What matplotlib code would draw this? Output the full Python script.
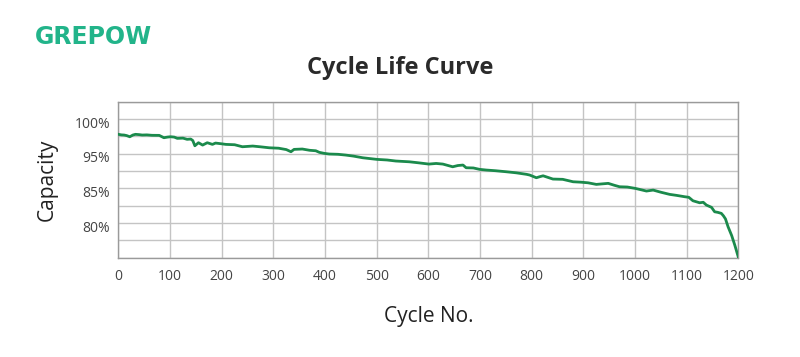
import matplotlib.pyplot as plt
from matplotlib.transforms import ScaledTranslation

# capacity curve (cycle no. vs capacity %)
cycles = [0, 6, 11, 16, 22, 28, 33, 40, 46, 55, 65, 79, 88, 95, 101, 108, 114,
          125, 133, 140, 144, 148, 155, 163, 172, 182, 188, 198, 208, 225, 240,
          260, 275, 292, 310, 325, 334, 340, 356, 370, 382, 389, 398, 408, 425,
          440, 455, 473, 500, 520, 537, 563, 580, 601, 615, 628, 647, 657, 667,
          673, 687, 699, 712, 730, 751, 770, 790, 796, 809, 815, 822, 841, 860,
          880, 895, 909, 925, 948, 960, 970, 985, 1000, 1012, 1022, 1035, 1050,
          1067, 1080, 1096, 1104, 1112, 1125, 1132, 1138, 1148, 1154, 1160,
          1167, 1171, 1175, 1180, 1187, 1193, 1200]
capacity = [97.80, 97.72, 97.70, 97.62, 97.45, 97.70, 97.80, 97.76, 97.70,
            97.72, 97.66, 97.65, 97.31, 97.40, 97.45, 97.40, 97.22, 97.25,
            97.08, 97.12, 96.90, 96.15, 96.59, 96.25, 96.59, 96.35, 96.54,
            96.45, 96.35, 96.30, 96.01, 96.11, 96.00, 95.86, 95.80, 95.60,
            95.29, 95.63, 95.68, 95.50, 95.43, 95.20, 95.06, 94.96, 94.92,
            94.81, 94.66, 94.42, 94.19, 94.10, 93.95, 93.84, 93.70, 93.51,
            93.60, 93.51, 93.12, 93.30, 93.37, 92.98, 92.95, 92.75, 92.65,
            92.55, 92.40, 92.25, 92.03, 91.93, 91.54, 91.68, 91.82, 91.35,
            91.31, 90.96, 90.90, 90.81, 90.58, 90.73, 90.45, 90.24, 90.20,
            90.01, 89.80, 89.62, 89.76, 89.45, 89.14, 89.00, 88.80, 88.72,
            88.22, 87.93, 88.00, 87.60, 87.27, 86.63, 86.55, 86.40, 86.05,
            85.60, 84.47, 83.20, 81.83, 80.05]

x_ticks = [0, 100, 200, 300, 400, 500, 600, 700, 800, 900, 1000, 1100, 1200]
y_grid = [80.0, 82.5, 85.0, 87.5, 90.0, 92.5, 95.0, 97.5, 100.0, 102.5]
y_label_pos = [100.0, 95.0, 90.0, 85.0]
y_label_text = ['100%', '95%', '85%', '80%']

plt.rcParams['font.family'] = ['Open Sans', 'DejaVu Sans']

fig = plt.figure(figsize=(8, 3.57), dpi=100)
ax = fig.add_axes([0.148, 0.278, 0.775, 0.437])

ax.plot(cycles, capacity, color='#1b8a4c', lw=2, zorder=3)

ax.set_xlim(0, 1200)
ax.set_ylim(80, 102.5)
ax.set_xticks(x_ticks)
ax.set_yticks(y_grid, minor=True)
ax.set_yticks(y_label_pos)
ax.set_yticklabels(y_label_text)
ax.grid(True, which='both', color='#c4c4c4', lw=1)
ax.tick_params(which='both', length=0, labelsize=10, colors='#444444', pad=8)
ax.tick_params(axis='y', pad=6)
# labels in the reference sit a little below their grid lines
shift = ScaledTranslation(0, -3 / 100, fig.dpi_scale_trans)
for lab in ax.get_yticklabels():
    lab.set_transform(lab.get_transform() + shift)
for s in ax.spines.values():
    s.set_color('#9a9a9a')
    s.set_linewidth(1)

ax.set_ylabel('Capacity', fontsize=15, color='#222222', labelpad=12)
ax.set_xlabel('Cycle No.', fontsize=15, color='#222222', labelpad=16)

fig.text(0.5, 0.81, 'Cycle Life Curve', ha='center', va='center',
         fontsize=17, fontweight='bold', color='#2a2a2a')
fig.text(0.044, 0.895, 'GREPOW', ha='left', va='center', fontsize=17,
         fontweight='bold', color='#22b48a', family='DejaVu Sans')

fig.savefig('out.png', dpi=100, facecolor='white')
